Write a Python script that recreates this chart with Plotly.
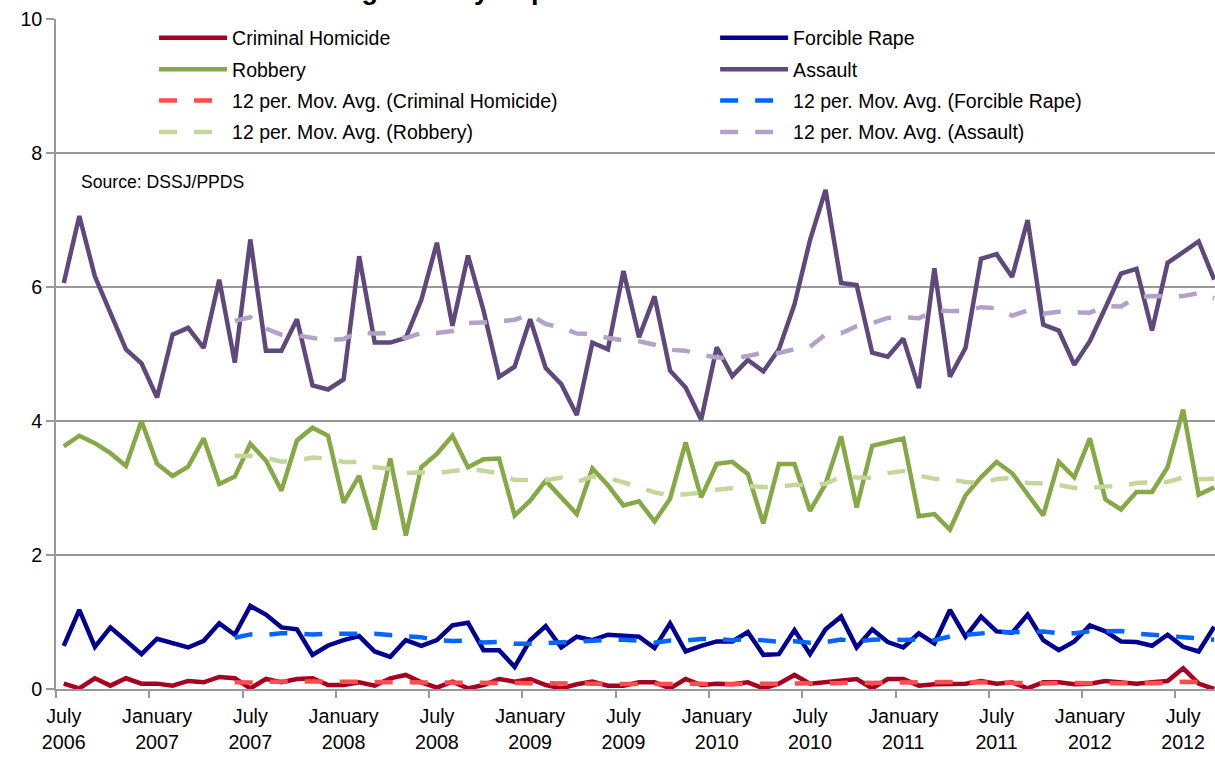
import plotly.graph_objects as go
import pandas as pd

month_names = ["July", "August", "September", "October", "November", "December",
               "January", "February", "March", "April", "May", "June"]
start_year = 2006
n_months = 75
months = []
for k in range(n_months):
    m = month_names[k % 12]
    y = start_year + (k + 6) // 12
    months.append(f"{m} {y}")

homicide = [0.08, 0.01, 0.16, 0.05, 0.16, 0.08, 0.08, 0.05, 0.12, 0.10, 0.18, 0.16,
            0.01, 0.15, 0.10, 0.15, 0.16, 0.06, 0.06, 0.10, 0.05, 0.16, 0.21, 0.10,
            0.02, 0.11, 0.01, 0.06, 0.15, 0.11, 0.15, 0.06, 0.01, 0.07, 0.11, 0.05,
            0.05, 0.10, 0.10, 0.01, 0.15, 0.06, 0.08, 0.07, 0.10, 0.01, 0.08, 0.21,
            0.08, 0.10, 0.12, 0.15, 0.01, 0.15, 0.15, 0.05, 0.07, 0.07, 0.08, 0.12,
            0.08, 0.10, 0.01, 0.10, 0.10, 0.07, 0.08, 0.12, 0.10, 0.08, 0.10, 0.12,
            0.31, 0.08, 0.00]

rape = [0.645, 1.18, 0.63, 0.92, 0.72, 0.52, 0.75, 0.69, 0.62, 0.72, 0.98, 0.81,
        1.24, 1.11, 0.92, 0.89, 0.51, 0.65, 0.73, 0.79, 0.56, 0.48, 0.73, 0.645,
        0.73, 0.95, 0.99, 0.58, 0.58, 0.33, 0.73, 0.94, 0.62, 0.78, 0.73, 0.81,
        0.79, 0.78, 0.61, 0.98, 0.56, 0.645, 0.71, 0.71, 0.85, 0.51, 0.52, 0.88,
        0.52, 0.89, 1.08, 0.62, 0.89, 0.70, 0.62, 0.83, 0.68, 1.18, 0.78, 1.08,
        0.86, 0.84, 1.11, 0.73, 0.58, 0.71, 0.95, 0.86, 0.71, 0.70, 0.645, 0.81,
        0.63, 0.56, 0.93]

robbery = [3.62, 3.78, 3.67, 3.52, 3.33, 4.00, 3.36, 3.18, 3.32, 3.74, 3.06, 3.17,
           3.66, 3.41, 2.96, 3.71, 3.90, 3.78, 2.78, 3.18, 2.38, 3.44, 2.29, 3.31,
           3.51, 3.78, 3.31, 3.43, 3.44, 2.59, 2.81, 3.11, 2.86, 2.61, 3.29, 3.04,
           2.74, 2.80, 2.50, 2.84, 3.68, 2.86, 3.36, 3.39, 3.21, 2.47, 3.36, 3.36,
           2.66, 3.06, 3.77, 2.71, 3.63, 3.69, 3.74, 2.58, 2.61, 2.38, 2.89, 3.16,
           3.39, 3.22, 2.91, 2.59, 3.39, 3.16, 3.74, 2.83, 2.68, 2.94, 2.94, 3.31,
           4.17, 2.90, 3.01]

assault = [6.06, 7.06, 6.16, 5.62, 5.07, 4.86, 4.35, 5.29, 5.39, 5.09, 6.11, 4.87,
           6.71, 5.05, 5.05, 5.52, 4.53, 4.47, 4.62, 6.46, 5.17, 5.17, 5.24, 5.81,
           6.66, 5.42, 6.47, 5.65, 4.66, 4.81, 5.52, 4.79, 4.55, 4.09, 5.17, 5.07,
           6.24, 5.25, 5.86, 4.75, 4.50, 4.02, 5.10, 4.67, 4.91, 4.74, 5.07, 5.74,
           6.70, 7.45, 6.06, 6.03, 5.02, 4.96, 5.23, 4.49, 6.28, 4.66, 5.09, 6.42,
           6.49, 6.15, 7.00, 5.44, 5.35, 4.84, 5.19, 5.69, 6.20, 6.27, 5.35, 6.36,
           6.53, 6.68, 6.11]

tick_positions = [0, 6, 12, 18, 24, 30, 36, 42, 48, 54, 60, 66, 72]
tick_labels = ["July<br>2006", "January<br>2007", "July<br>2007", "January<br>2008",
               "July<br>2008", "January<br>2009", "July<br>2009", "January<br>2010",
               "July<br>2010", "January<br>2011", "July<br>2011", "January<br>2012",
               "July<br>2012"]

FONT = "Liberation Sans, Arial, sans-serif"
x = list(range(len(months)))

def mov_avg(vals):
    return pd.Series(vals).rolling(12).mean().tolist()

series = [
    ("Criminal Homicide", homicide, "#A50021", "legend"),
    ("Forcible Rape", rape, "#000090", "legend2"),
    ("Robbery", robbery, "#86A846", "legend"),
    ("Assault", assault, "#5F497A", "legend2"),
]
ma_colors = {"Criminal Homicide": "#FF4D4D", "Forcible Rape": "#0066FF",
             "Robbery": "#C4D79B", "Assault": "#B3A2C7"}

fig = go.Figure()
for name, vals, col, lg in series:
    fig.add_trace(go.Scatter(x=x, y=vals, mode="lines", name=name, legend=lg,
                             legendgroup=name, customdata=months,
                             line=dict(color=col, width=4.5)))
for name, vals, col, lg in series:
    ma_name = f"12 per. Mov. Avg. ({name})"
    fig.add_trace(go.Scatter(x=x, y=mov_avg(vals), mode="lines",
                             name=ma_name, legend=lg, legendgroup=ma_name,
                             line=dict(color=ma_colors[name], width=4.5, dash="18px,17px")))

legend_common = dict(orientation="v", xanchor="left", yanchor="top",
                     bgcolor="rgba(0,0,0,0)", itemwidth=68, font=dict(size=19.5),
                     traceorder="grouped", tracegroupgap=3)

fig.update_layout(
    width=1215, height=759,
    margin=dict(l=56, r=0, t=19, b=70),
    paper_bgcolor="white", plot_bgcolor="white",
    font=dict(family=FONT, size=19.7, color="black"),
    showlegend=True,
    legend=dict(x=0.0846, y=1.0005, **legend_common),
    legend2=dict(x=0.5687, y=1.0005, **legend_common),
    xaxis=dict(range=[-0.5, 74.05], tickmode="array", tickvals=tick_positions,
               ticktext=tick_labels, ticks="", showgrid=False, zeroline=False,
               showline=True, linecolor="#999999", linewidth=1.5,
               tickfont=dict(size=19.7), ticklabelstandoff=9,
               minor=dict(tickmode="linear", tick0=-0.5, dtick=6, ticks="outside",
                          ticklen=7, tickcolor="#999999", tickwidth=1.5, showgrid=False)),
    yaxis=dict(range=[0, 10], tickvals=[0, 2, 4, 6, 8, 10], showgrid=True,
               gridcolor="#999999", gridwidth=1.5, zeroline=False, showline=True,
               linecolor="#999999", linewidth=1.5, ticks="outside", ticklen=8,
               tickcolor="#999999", tickwidth=1.5, tickfont=dict(size=19.7)),
    annotations=[
        dict(text="Source: DSSJ/PPDS", xref="paper", yref="paper", x=0.02, y=0.757,
             xanchor="left", yanchor="middle", showarrow=False, font=dict(size=17.6)),
        dict(text="<b>Violent Crime Rates Using Monthly Reports</b>", xref="paper",
             yref="paper", x=0.47, y=1.018, xanchor="right", yanchor="bottom",
             showarrow=False, font=dict(size=27)),
    ],
)

fig.write_html("out.html", config={"displayModeBar": False},
               post_script="document.body.style.margin='0';document.body.style.overflow='hidden';")
